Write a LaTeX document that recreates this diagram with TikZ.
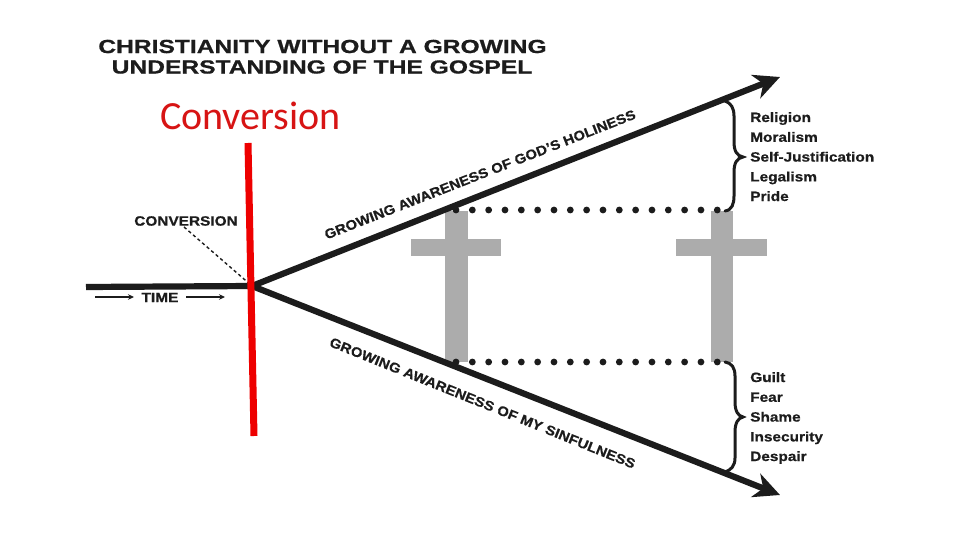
\documentclass[tikz,border=0pt]{standalone}
\usepackage{fontspec}
\setmainfont[BoldFeatures={FakeBold=0.6}]{Liberation Sans}
\newfontfamily\calibrilike{Carlito}
\usetikzlibrary{arrows.meta}
\definecolor{ink}{RGB}{28,28,28}
\definecolor{crossgrey}{RGB}{172,172,172}
\tikzset{
  x=1pt,y=-1pt,
  heavy/.style={draw=ink,line width=6.2pt},
  heavyarrow/.style={heavy,-{Stealth[length=26pt,width=25pt,inset=8pt]}},
  label/.style={font=\bfseries\fontsize{#1}{#1}\selectfont,text=ink,inner sep=0pt},
  label/.default=13.5,
  crossbar/.style={fill=crossgrey,draw=none},
  dotrow/.style={draw=ink,line width=6.8pt,line cap=round,dash pattern=on 0pt off 16.33pt},
  bracestroke/.style={draw=ink,line width=3pt,line cap=round},
  thinarrow/.style={draw=ink,line width=1.1pt,-{Stealth[length=6pt,width=5.5pt]}},
}
\begin{document}
\begin{tikzpicture}
\useasboundingbox[fill=white] (0,0) rectangle (960,540);
% crosses
\fill[crossbar] (445,211) rectangle (468,362);
\fill[crossbar] (411,239) rectangle (501,256);
\fill[crossbar] (711,211) rectangle (733,362);
\fill[crossbar] (676,239) rectangle (767,256);
% named points
\coordinate (start) at (86,287);
\coordinate (hub) at (252,286);
\coordinate (upTip) at (780,77);
\coordinate (downTip) at (780,495);
\coordinate (dotUL) at (456,210);
\coordinate (dotUR) at (720,210);
\coordinate (dotLL) at (456,362);
\coordinate (dotLR) at (720,362);
% titles
\node[label=19,anchor=center,xscale=1.295] (title1) at (322.5,46.5) {CHRISTIANITY WITHOUT A GROWING};
\node[label=19,anchor=center,xscale=1.295] (title2) at (322,67) {UNDERSTANDING OF THE GOSPEL};
\node[font=\calibrilike\fontsize{40}{40}\selectfont,text={rgb,255:red,215;green,20;blue,20},inner sep=0pt] (conv) at (250.5,116) {Conversion};
% main lines
\draw[heavy] (start) -- (hub);
\draw[heavyarrow] (hub) -- (upTip);
\draw[heavyarrow] (hub) -- (downTip);
% dotted rows
\draw[dotrow] (dotUL) -- (dotUR);
\draw[dotrow] (dotLL) -- (dotLR);
% slanted labels
\node[label=13.5,rotate=21.4,xscale=1.11] (holy) at (480,174.5) {GROWING AWARENESS OF GOD’S HOLINESS};
\node[label=13.5,rotate=-22,xscale=1.12] (sin) at (482.5,403) {GROWING AWARENESS OF MY SINFULNESS};
% conversion pointer
\node[label=13.5,xscale=1.14] (cvlabel) at (186,221) {CONVERSION};
\draw[draw=ink,line width=1.4pt,dash pattern=on 3.2pt off 2.8pt] (cvlabel.south) ++(-2,1) -- (hub);
% time
\node[label=13.5,xscale=1.15] (time) at (160,297.5) {TIME};
\coordinate (t1) at (95,297);
\coordinate (t2) at (225,297);
\draw[thinarrow] (t1) -- (134,297);
\draw[thinarrow] (186,297) -- (t2);
% red bar
\coordinate (redTop) at (248,143);
\coordinate (redBot) at (254,436);
\draw[draw={rgb,255:red,238;green,0;blue,0},line width=7pt] (redTop) -- (redBot);
% braces
\draw[bracestroke] (725,211) .. controls (732,210) and (734,204) .. (734,196)
  -- (734,172) .. controls (734,163) and (737,158) .. (743,157)
  .. controls (737,156) and (734,151) .. (734,142)
  -- (734,116) .. controls (734,108) and (731,103) .. (725,101);
\draw[bracestroke] (725,362) .. controls (732,363) and (735,368) .. (735,376)
  -- (735,402) .. controls (735,411) and (738,416) .. (743,417)
  .. controls (738,418) and (735,423) .. (735,432)
  -- (735,458) .. controls (735,466) and (731,470) .. (725,472);
% lists
\foreach \n/\t/\y in {r1/Religion/122,r2/Moralism/141.8,r3/Self-Justification/161.6,r4/Legalism/181.4,r5/Pride/201,
  s1/Guilt/382,s2/Fear/401.8,s3/Shame/421.6,s4/Insecurity/441.4,s5/Despair/461}
  \node[label=13.5,anchor=base west,xscale=1.14] (\n) at (750,\y) {\t};
\end{tikzpicture}
\end{document}
